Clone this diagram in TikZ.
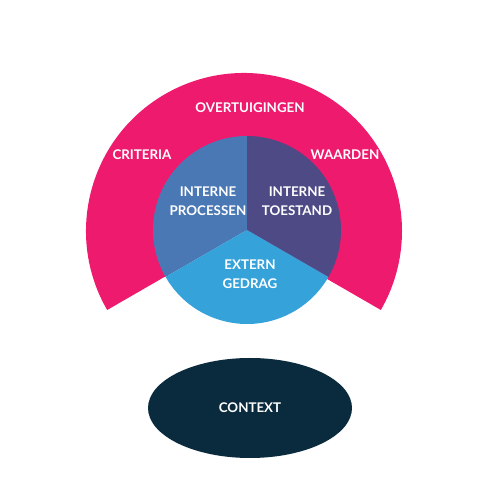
\documentclass[tikz,border=0pt]{standalone}
\usepackage{fontspec}
\setmainfont{Lato}
\usepackage{tikz}
\usetikzlibrary{calc}
\definecolor{roze}{HTML}{EE1A6E}
\definecolor{blauw}{HTML}{4A78B5}
\definecolor{paars}{HTML}{4E4A86}
\definecolor{lichtblauw}{HTML}{35A3DA}
\definecolor{donker}{HTML}{0A2B3D}
\tikzset{label/.style={text=white,font=\bfseries\fontsize{7.6}{10.8}\selectfont,align=center}}

\begin{document}
\begin{tikzpicture}
	\useasboundingbox (0,0) rectangle (10,10);
	\coordinate (R) at (4.88,5.38);
	\coordinate (M) at (4.94,5.40);
	% buitenste ring
	\fill[roze] (R) -- ($(R)+(210:3.16)$) arc (210:-30:3.16) -- cycle;
	% binnenste cirkel
	\fill[blauw] (M) -- ($(M)+(90:1.88)$) arc (90:210:1.88) -- cycle;
	\fill[paars] (M) -- ($(M)+(-30:1.88)$) arc (-30:90:1.88) -- cycle;
	\fill[lichtblauw] (M) -- ($(M)+(210:1.88)$) arc (210:330:1.88) -- cycle;
	% context
	\fill[donker] (5.0,1.84) ellipse (2.04 and 1.0);
	\draw (5.0,7.84) node[label] (overtuigingen) {OVERTUIGINGEN};
	\draw (2.84,6.9) node[label] (criteria) {CRITERIA};
	\draw (6.9,6.9) node[label] (waarden) {WAARDEN};
	\draw (4.16,5.98) node[label] (processen) {INTERNE\\PROCESSEN};
	\draw (5.94,5.98) node[label] (toestand) {INTERNE\\TOESTAND};
	\draw (5.0,4.52) node[label] (gedrag) {EXTERN\\GEDRAG};
	\draw (5.0,1.84) node[label] (context) {CONTEXT};
\end{tikzpicture}
\end{document}
